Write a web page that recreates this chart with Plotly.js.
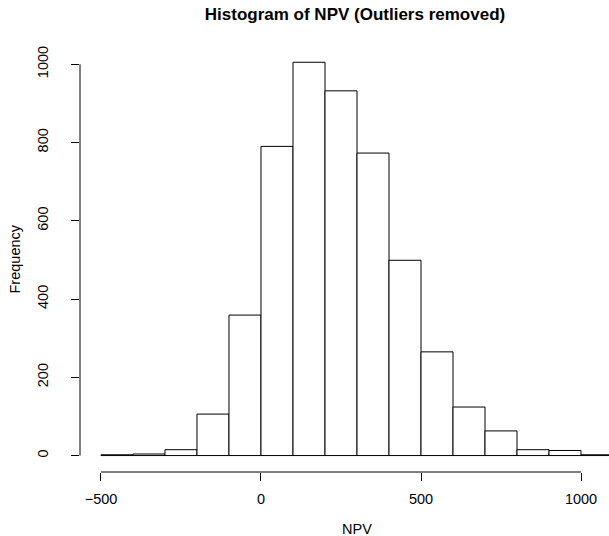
<!DOCTYPE html>
<html>
<head>
<meta charset="utf-8">
<script src="https://cdn.plot.ly/plotly-3.0.1.min.js"></script>
<style>html,body{margin:0;padding:0;background:#fff;overflow:hidden}#chart{width:609px;height:536px}</style>
</head>
<body>
<div id="chart"></div>
<script>
// Histogram bin breaks (NPV) and counts
var breaks = [-500, -400, -300, -200, -100, 0, 100, 200, 300, 400, 500, 600, 700, 800, 900, 1000, 1100];
var counts = [2, 4, 15, 106, 359, 790, 1005, 932, 773, 499, 265, 124, 63, 15, 13, 2];
var xTickVals = [-500, 0, 500, 1000];
var xTickText = ["\u2212500", "0", "500", "1000"];
var yTickVals = [0, 200, 400, 600, 800, 1000];
var yTickText = ["0", "200", "400", "600", "800", "1000"];

var centers = [], widths = [];
for (var i = 0; i < counts.length; i++) {
  centers.push((breaks[i] + breaks[i + 1]) / 2);
  widths.push(breaks[i + 1] - breaks[i]);
}

var FONT = "Liberation Sans, Arial, Helvetica, sans-serif";

var trace = {
  type: "bar",
  x: centers,
  y: counts,
  width: widths,
  marker: {color: "#ffffff", line: {color: "#000000", width: 1}},
  hoverinfo: "x+y"
};

var layout = {
  width: 609,
  height: 536,
  margin: {l: 80, r: 0, t: 47, b: 64, pad: 0},
  paper_bgcolor: "#ffffff",
  plot_bgcolor: "#ffffff",
  showlegend: false,
  bargap: 0,
  font: {family: FONT, size: 14, color: "#000000"},
  title: {
    text: "<b>Histogram of NPV (Outliers removed)</b>",
    font: {family: FONT, size: 17, color: "#000000"},
    xref: "container", yref: "container",
    x: 355 / 609, y: 1 - 14 / 536,
    xanchor: "center", yanchor: "middle"
  },
  xaxis: {
    range: [-565.6, 1087.5],
    tickmode: "array",
    tickvals: xTickVals,
    ticktext: xTickText,
    ticks: "outside",
    ticklen: 8,
    tickwidth: 1,
    tickcolor: "#000000",
    showline: false,
    showgrid: false,
    zeroline: false,
    ticklabelstandoff: 6,
    tickfont: {family: FONT, size: 14.5, color: "#000000"},
    fixedrange: true
  },
  yaxis: {
    range: [-42, 1044],
    tickmode: "array",
    tickvals: yTickVals,
    ticktext: yTickText,
    ticks: "outside",
    ticklen: 8,
    tickwidth: 1,
    tickcolor: "#000000",
    tickangle: -90,
    showline: false,
    showgrid: false,
    zeroline: false,
    ticklabelstandoff: 17,
    tickfont: {family: FONT, size: 14.5, color: "#000000"},
    fixedrange: true
  },
  shapes: [
    {type: "line", xref: "x", yref: "paper", x0: xTickVals[0], x1: xTickVals[xTickVals.length - 1], y0: 0, y1: 0,
     line: {color: "#000000", width: 1}},
    {type: "line", xref: "paper", yref: "y", x0: 0, x1: 0, y0: yTickVals[0], y1: yTickVals[yTickVals.length - 1],
     line: {color: "#000000", width: 1}}
  ],
  annotations: [
    {text: "NPV", xref: "x", yref: "paper", x: 300, y: -(529 - 472) / (536 - 47 - 64),
     xanchor: "center", yanchor: "middle", showarrow: false,
     font: {family: FONT, size: 14.5, color: "#000000"}},
    {text: "Frequency", xref: "paper", yref: "paper", x: -(80 - 14) / 529, y: 0.5,
     xanchor: "center", yanchor: "middle", textangle: -90, showarrow: false,
     font: {family: FONT, size: 14.5, color: "#000000"}}
  ]
};

Plotly.newPlot("chart", [trace], layout, {displayModeBar: false, staticPlot: true});
</script>
</body>
</html>
